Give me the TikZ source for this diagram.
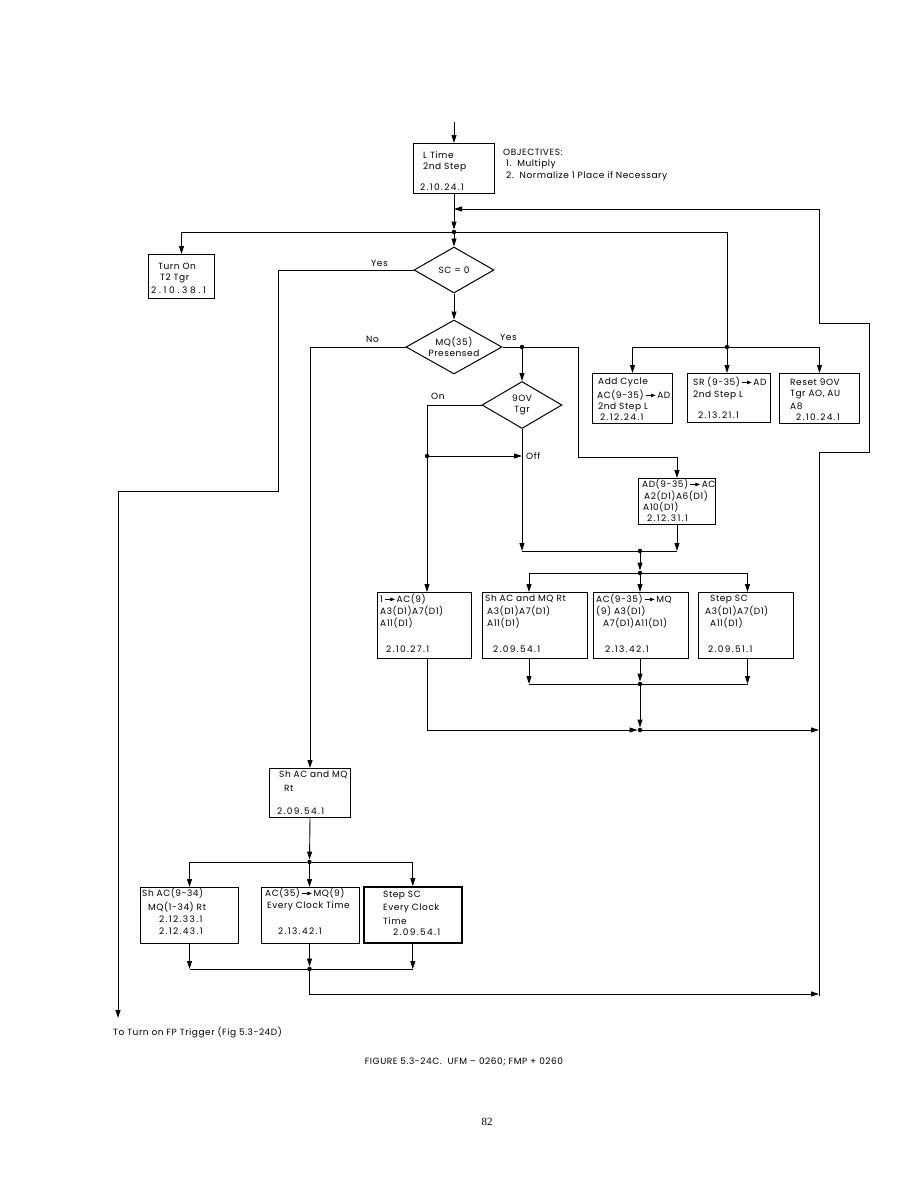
\documentclass[tikz,border=0pt]{standalone}
\usepackage{fontspec}
\setmainfont{Poppins}[LetterSpace=6]
\newfontfamily\pnfont{Liberation Serif}
\usetikzlibrary{arrows.meta,shapes.geometric,calc}
\newcommand\fs{\fontsize{9}{11}\selectfont}
\newcommand\num[1]{{\addfontfeatures{LetterSpace=15}#1}}
\newcommand\rarr{\,\tikz[baseline=-0.6ex]\draw[line width=0.6pt,-{Triangle[length=4.5pt,width=3.5pt]}] (0pt,0pt)--(10pt,0pt);\,}
\tikzset{
  ln/.style={line width=0.9pt},
  arr/.style={ln,-{Triangle[length=8pt,width=5pt]}},
  bx/.style={draw,line width=1pt,inner sep=0pt,anchor=north west},
  dm/.style={draw,diamond,shape aspect=1.75,line width=1pt,inner sep=0pt,align=center,font=\fs},
  tx/.style={anchor=west,inner sep=0pt,font=\fs},
  dot/.style={circle,fill,inner sep=0pt,minimum size=4.5pt},
}
\begin{document}
\begin{tikzpicture}[x=1pt,y=-1pt]
\useasboundingbox (0,0) rectangle (923,1192);
\fill[white] (0,0) rectangle (923,1192);

% ---------- nodes ----------
\coordinate (top) at (454,122);
\node[bx,minimum width=81pt,minimum height=50pt] (lt) at (413,143) {};
\node[tx] at (423,155) {L Time};
\node[tx] at (423,167) {2nd Step};
\node[tx] at (420,187) {\num{2.10.24.1}};
\node[tx] at (503,152) {OBJECTIVES:};
\node[tx] at (506,164) {1.\ \ Multiply};
\node[tx] at (506,176) {2.\ \ Normalize 1 Place if Necessary};

\coordinate (fb) at (454,209);
\node[dot] (j2) at (454,232) {};
\node[dm,minimum width=80pt,minimum height=46pt] (sc) at (454,270) {SC = 0};
\node[dm,minimum width=96pt,minimum height=54pt] (mq) at (454,347) {MQ(35)\\Presensed};
\node[dm,minimum width=80pt,minimum height=47pt] (ov) at (522,405) {9OV\\Tgr};

\node[bx,minimum width=66pt,minimum height=44pt] (to) at (148,254) {};
\node[tx] at (158,266) {Turn On};
\node[tx] at (160,278) {T2 Tgr};
\node[tx] at (151,290) {{\addfontfeatures{LetterSpace=30}2.10.38.1}};

\node[dot] (j3) at (727,347) {};
\node[bx,minimum width=80pt,minimum height=50pt] (addc) at (592,373) {};
\node[tx] at (598,382) {Add Cycle};
\node[tx] at (597,395) {AC(9-35)\rarr AD};
\node[tx] at (598,407) {2nd Step L};
\node[tx] at (600,417) {\num{2.12.24.1}};
\node[bx,minimum width=83pt,minimum height=49pt] (sr) at (687,373) {};
\node[tx] at (693,382) {SR (9-35)\rarr AD};
\node[tx] at (693,395) {2nd Step L};
\node[tx] at (698,415) {\num{2.13.21.1}};
\node[bx,minimum width=80pt,minimum height=50pt] (reset) at (779,373) {};
\node[tx] at (790,382) {Reset 9OV};
\node[tx] at (790,395) {Tgr AO, AU};
\node[tx] at (790,406) {A8};
\node[tx] at (796,417) {\num{2.10.24.1}};

\node[dot] (j4) at (522,347) {};
\coordinate (on) at (427,405);
\node[dot] (j5) at (427,456) {};
\node[bx,minimum width=77pt,minimum height=46pt] (ad) at (638,478) {};
\node[tx] at (642,484) {AD(9-35)\rarr AC};
\node[tx] at (644,496) {A2(D1)A6(D1)};
\node[tx] at (643,507) {A10(D1)};
\node[tx] at (647,518) {\num{2.12.31.1}};

\coordinate (m1) at (522,551);
\node[dot] (j6) at (640,551) {};
\node[dot] (j7) at (640,573) {};

\node[bx,minimum width=94pt,minimum height=66pt] (b1) at (377,592) {};
\node[tx] at (380,599) {1\rarr AC(9)};
\node[tx] at (380,611) {A3(D1)A7(D1)};
\node[tx] at (380,623) {A11(D1)};
\node[tx] at (386,649) {\num{2.10.27.1}};
\node[bx,minimum width=105pt,minimum height=66pt] (b2) at (482,592) {};
\node[tx] at (485,599) {Sh AC and MQ Rt};
\node[tx] at (487,611) {A3(D1)A7(D1)};
\node[tx] at (487,623) {A11(D1)};
\node[tx] at (493,649) {\num{2.09.54.1}};
\node[bx,minimum width=95pt,minimum height=66pt] (b3) at (593,592) {};
\node[tx] at (596,599) {AC(9-35)\rarr MQ};
\node[tx] at (596,611) {(9) A3(D1)};
\node[tx] at (603,623) {A7(D1)A11(D1)};
\node[tx] at (605,649) {\num{2.13.42.1}};
\node[bx,minimum width=95pt,minimum height=66pt] (b4) at (698,592) {};
\node[tx] at (710,599) {Step SC};
\node[tx] at (705,611) {A3(D1)A7(D1)};
\node[tx] at (710,623) {A11(D1)};
\node[tx] at (708,649) {\num{2.09.51.1}};
\coordinate (x2) at ($(b2.south)+(-6,0)$);
\coordinate (x2t) at ($(b2.north)+(-6,0)$);
\coordinate (x4) at ($(b4.south)+(1.5,0)$);
\coordinate (x4t) at ($(b4.north)+(1.5,0)$);
\node[dot] (j8) at (640,684) {};
\node[dot] (j9) at (640,730) {};

\coordinate (rb) at (819,996);
\coordinate (fp) at (118,1018);

\node[bx,minimum width=81pt,minimum height=49pt] (shmq) at (269,768) {};
\node[tx] at (279,775) {Sh AC and MQ};
\node[tx] at (284,788) {Rt};
\node[tx] at (277,811) {\num{2.09.54.1}};
\node[dot] (j10) at (309.5,862) {};

\node[bx,minimum width=98pt,minimum height=56pt] (c1) at (140,887) {};
\node[tx] at (142,893) {Sh AC(9-34)};
\node[tx] at (148,907) {MQ(1-34) Rt};
\node[tx] at (159,919) {\num{2.12.33.1}};
\node[tx] at (159,931) {\num{2.12.43.1}};
\node[bx,minimum width=98pt,minimum height=56pt] (c2) at (260.5,887) {};
\node[tx] at (265,893) {AC(35)\rarr MQ(9)};
\node[tx] at (267,906) {Every Clock Time};
\node[tx] at (278,931) {\num{2.13.42.1}};
\node[bx,minimum width=98pt,minimum height=56pt,line width=1.6pt] (c3) at (363,886) {};
\node[tx] at (383,895) {Step SC};
\node[tx] at (383,908) {Every Clock};
\node[tx] at (383,921) {Time};
\node[tx] at (393,932) {\num{2.09.54.1}};
\node[dot] (j11) at (309.5,969) {};
\coordinate (k) at (309.5,994);

% ---------- connectors ----------
\draw[arr] (top) -- (lt.north);
\draw[arr] (lt.south) -- (j2);
\draw[arr] (rb) -- (819,452) -- (869,452) -- (869,323) -- (819,323) -- (819,209) -- (fb);
\draw[arr] (j2) -- (sc.north);
\draw[arr] (j2) -- (to.north |- j2) -- (to.north);
\draw[ln] (j2) -- (j3 |- j2) -- (j3);
\draw[arr] (j3) -| (addc.north);
\draw[arr] (j3) -- (j3 |- sr.north);
\draw[arr] (j3) -| (reset.north);
\draw[arr] (sc.south) -- (mq.north);
\draw[arr] (sc.west) -- (278,270) -- (278,491) -- (118,491) -- (fp);
\draw[arr] (mq.west) -| (shmq.north);
\draw[ln] (mq.east) -- (j4);
\draw[arr] (j4) -- (578,347) -- (578,457) -| (ad.north);
\draw[arr] (j4) -- (ov.north);
\draw[arr] (ov.west) -- (on) -- (on |- b1.north);
\draw[arr] (j5) -- (ov.south |- j5);
\draw[arr] (ov.south) -- (m1);
\draw[arr] (ad.south) -- (ad.south |- m1);
\draw[ln] (m1) -- (ad.south |- m1);
\draw[arr] (j6) -- (j7);
\draw[arr] (j7) -| (x2t);
\draw[arr] (j7) -- (j7 |- b3.north);
\draw[arr] (j7) -| (x4t);
\draw[arr] (x2) -- (x2 |- j8);
\draw[arr] (b3.south -| j8) -- (j8);
\draw[arr] (x4) -- (x4 |- j8);
\draw[ln] (x2 |- j8) -- (x4 |- j8);
\draw[arr] (j8) -- (j9);
\draw[arr] (on |- b1.south) -- (on |- j9) -- (j9);
\draw[arr] (j9) -- (rb |- j9);
\draw[arr] (shmq.south) -- (j10);
\draw[arr] (j10) -| (c1.north);
\draw[arr] (j10) -- (j10 |- c2.north);
\draw[arr] (j10) -| (c3.north);
\draw[arr] (c1.south) -- (c1.south |- j11);
\draw[arr] (c2.south -| j11) -- (j11);
\draw[arr] (c3.south) -- (c3.south |- j11);
\draw[ln] (c1.south |- j11) -- (c3.south |- j11);
\draw[arr] (j11) -- (k) -- (k -| rb);

% ---------- labels ----------
\node[tx] at (371,263) {Yes};
\node[tx] at (366,339) {No};
\node[tx] at (500,337) {Yes};
\node[tx] at (431,396) {On};
\node[tx] at (526,456) {Off};
\node[tx] at (113,1032) {To Turn on FP Trigger (Fig 5.3-24D)};
\node[font=\fs] (cap) at (464,1062) {FIGURE 5.3-24C.\ \ UFM – 0260; FMP + 0260};
\node[font=\pnfont\fontsize{11}{13}\selectfont] (pg) at (487,1122) {82};
\end{tikzpicture}
\end{document}
